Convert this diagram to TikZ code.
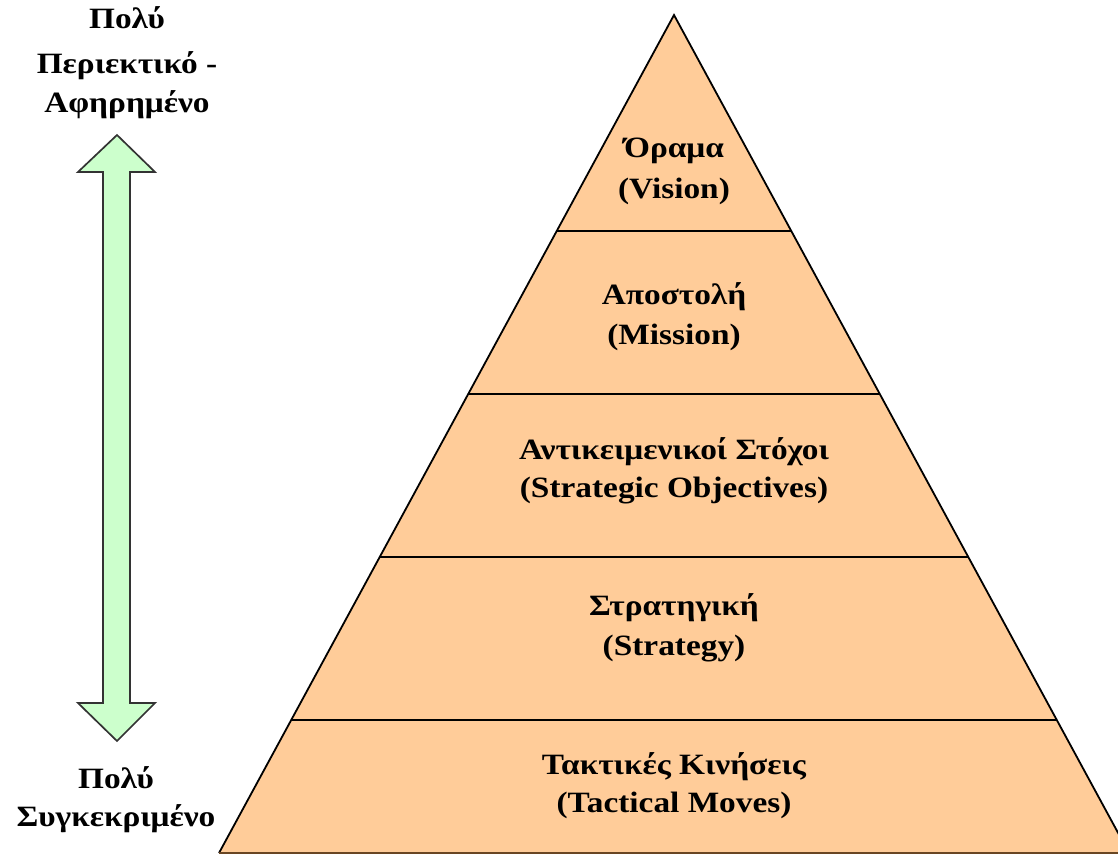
\documentclass[tikz,border=0pt]{standalone}
\usepackage{fontspec}
\setmainfont{Liberation Serif}[FakeStretch=1.13]
\definecolor{pyrfill}{HTML}{FFCC99}
\definecolor{arrfill}{HTML}{CCFFCC}
\begin{document}
\begin{tikzpicture}[x=1pt,y=-1pt,
  lbl/.style={font=\fontsize{29.5}{40}\selectfont\bfseries, anchor=base, inner sep=0pt, text=black},
  divider/.style={draw=black, line width=1.8pt}]
\useasboundingbox (0,0) rectangle (1118,855);
\clip (0,0) rectangle (1118,855);
% pyramid
\coordinate (apex) at (674,15);
\coordinate (bl) at (219,853);
\coordinate (br) at (1129,853);
\fill[pyrfill] (apex) -- (bl) -- (br) -- cycle;
\draw[black, line width=1.8pt, line join=miter] (bl) -- (apex) -- (br);
\draw[black!45!brown, line width=1.4pt] (bl) -- (br);
% dividers
\foreach \yy/\nm in {231/d1,394/d2,557/d3,720/d4}{
  \pgfmathsetmacro{\dx}{0.5417*(\yy-15)}
  \coordinate (\nm l) at ({674-\dx},\yy);
  \coordinate (\nm r) at ({674+\dx},\yy);
  \draw[divider] (\nm l) -- (\nm r);
}
% tier texts
\node[lbl] (t1a) at (674,157) {Όραμα};
\node[lbl] (t1b) at (674,198) {(Vision)};
\node[lbl] (t2a) at (674,304) {Αποστολή};
\node[lbl] (t2b) at (674,344) {(Mission)};
\node[lbl] (t3a) at (674,459) {Αντικειμενικοί Στόχοι};
\node[lbl] (t3b) at (674,497) {(Strategic Objectives)};
\node[lbl] (t4a) at (674,615) {Στρατηγική};
\node[lbl] (t4b) at (674,655) {(Strategy)};
\node[lbl] (t5a) at (674,774) {Τακτικές Κινήσεις};
\node[lbl] (t5b) at (674,812) {(Tactical Moves)};
% double arrow
\draw[fill=arrfill, draw=black!80, line width=1.7pt, line join=miter]
  (117,135) -- (155,172) -- (130,172) -- (130,703) -- (155,703) -- (117,741)
  -- (78,703) -- (103,703) -- (103,172) -- (78,172) -- cycle;
% side labels
\node[lbl] (u1) at (127,28) {Πολύ};
\node[lbl] (u2) at (127,73) {Περιεκτικό -};
\node[lbl] (u3) at (127,112) {Αφηρημένο};
\node[lbl] (b1) at (116,788) {Πολύ};
\node[lbl] (b2) at (116,826) {Συγκεκριμένο};
\end{tikzpicture}
\end{document}
